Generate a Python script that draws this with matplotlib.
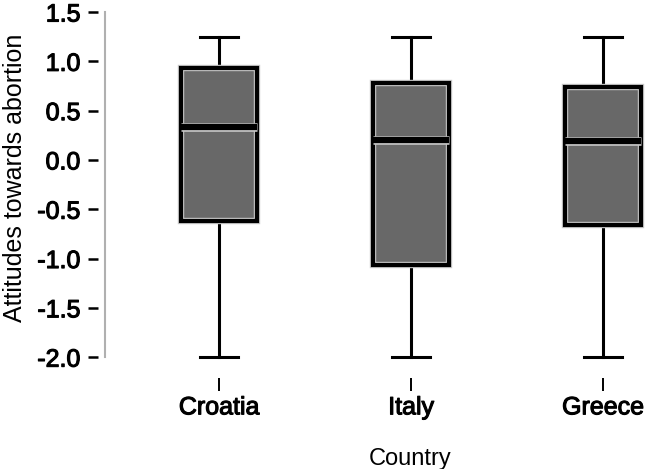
import matplotlib.pyplot as plt
import matplotlib.patheffects as pe
from matplotlib.patches import PathPatch

countries = ["Croatia", "Italy", "Greece"]
whislo = [-2.0, -2.0, -2.0]
q1 = [-0.62, -1.07, -0.66]
med = [0.33, 0.20, 0.19]
q3 = [0.93, 0.78, 0.74]
whishi = [1.25, 1.25, 1.25]
yticks = [-2.0, -1.5, -1.0, -0.5, 0.0, 0.5, 1.0, 1.5]

plt.rcParams['font.family'] = ['Liberation Sans', 'DejaVu Sans']

fig = plt.figure(figsize=(6.46, 4.69), dpi=100)
ax = fig.add_axes([105 / 646, 1 - 367 / 469, 1 - 105 / 646, 367 / 469])

stats = []
for i, name in enumerate(countries):
    stats.append(dict(label=name, whislo=whislo[i], q1=q1[i], med=med[i],
                      q3=q3[i], whishi=whishi[i], fliers=[]))

pos = [1, 2, 3]
bp = ax.bxp(stats, positions=pos, widths=0.4, patch_artist=True, showfliers=False,
            boxprops=dict(facecolor='#686868', edgecolor='none', linewidth=0),
            whiskerprops=dict(color='black', linewidth=2.2),
            capprops=dict(color='black', linewidth=2.2),
            medianprops=dict(color='black', linewidth=4.5, solid_capstyle='butt'),
            capwidths=0.2)
# box outline: light inner rim under a black edge
for b in bp['boxes']:
    b.set_zorder(2)
    ax.add_patch(PathPatch(b.get_path(), transform=b.get_transform(), fill=False,
                           edgecolor='#c8c8c8', linewidth=4.6, zorder=2.1))
    ax.add_patch(PathPatch(b.get_path(), transform=b.get_transform(), fill=False,
                           edgecolor='black', linewidth=3, zorder=2.2))
for m in bp['medians']:
    m.set_zorder(4)
    ax.plot(m.get_xdata(), m.get_ydata(), color='#c8c8c8', linewidth=6.2,
            solid_capstyle='butt', zorder=3)

ax.set_xlim(0.406, 3.224)
ax.set_ylim(-2.1, 1.622)

ax.spines['top'].set_visible(False)
ax.spines['right'].set_visible(False)
ax.spines['left'].set_color('none')
ax.spines['left'].set_position(('outward', 5))
ax.spines['bottom'].set_color('none')
ax.spines['bottom'].set_position(('outward', 8))
# grey axis line
ax.plot([0, 0], [-2.0, 1.5], transform=ax.get_yaxis_transform(), color='#b0b0b0',
        linewidth=1.5, clip_on=False)

thick = [pe.withStroke(linewidth=0.8, foreground='black')]
ax.set_yticks(yticks)
ax.set_yticklabels([f"{v:.1f}" for v in yticks], fontsize=18, path_effects=thick)
ax.tick_params(axis='y', length=7.2, width=1.8, color='black', pad=5.5)
ax.set_xticks(pos)
ax.set_xticklabels(countries, fontsize=18, path_effects=thick)
ax.tick_params(axis='x', length=9.4, width=1.4, color='black', pad=3)

ax.set_xlabel("Country", fontsize=17)
ax.xaxis.set_label_coords(0.564, -0.222)
ax.set_ylabel("Attitudes towards abortion", fontsize=18)
ax.yaxis.set_label_coords(-0.144, 0.515)

fig.savefig("out.png", dpi=100)
